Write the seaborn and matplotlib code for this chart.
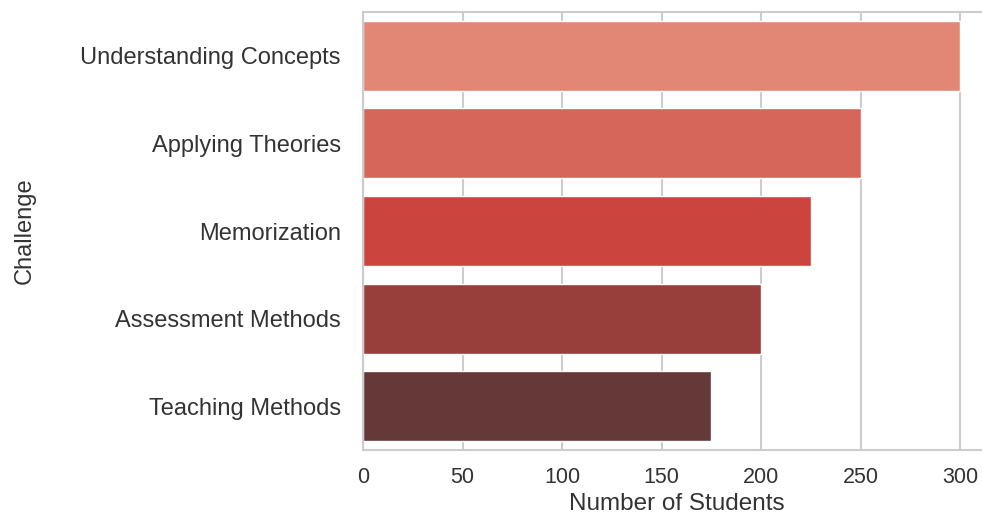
import matplotlib
matplotlib.use("Agg")
import matplotlib.pyplot as plt
import seaborn as sns
import pandas as pd

challenges = ["Understanding Concepts", "Applying Theories", "Memorization",
              "Assessment Methods", "Teaching Methods"]
students = [300, 250, 225, 200, 175]

sns.set_theme(style="whitegrid")
plt.rcParams['font.family'] = ['Liberation Sans', 'DejaVu Sans']

df = pd.DataFrame({"Challenge": challenges, "Number of Students": students})

fig = plt.figure(figsize=(9.82, 5.16), dpi=100)
ax = fig.add_axes([363/982, (516-450)/516, (990-363)/982, (450-12)/516])
sns.barplot(data=df, x="Number of Students", y="Challenge", hue="Challenge",
            palette="Reds_d", legend=False, ax=ax)
ax.set_xlim(0, 315)
ax.set_xticks([0, 50, 100, 150, 200, 250, 300])
ax.tick_params(axis='y', labelsize=17, colors='#333333', pad=10)
ax.tick_params(axis='x', labelsize=15.5, colors='#333333', pad=6)
ax.set_xlabel("Number of Students", fontsize=17.5, color='#333333', labelpad=4)
ax.set_ylabel("Challenge", fontsize=17, color='#333333', labelpad=32)
for s in ax.spines.values():
    s.set_color('#cccccc')
    s.set_linewidth(1.5)
ax.grid(axis='x', color='#cccccc', linewidth=1.5)
ax.grid(axis='y', visible=False)
fig.savefig("out.png", dpi=100)
